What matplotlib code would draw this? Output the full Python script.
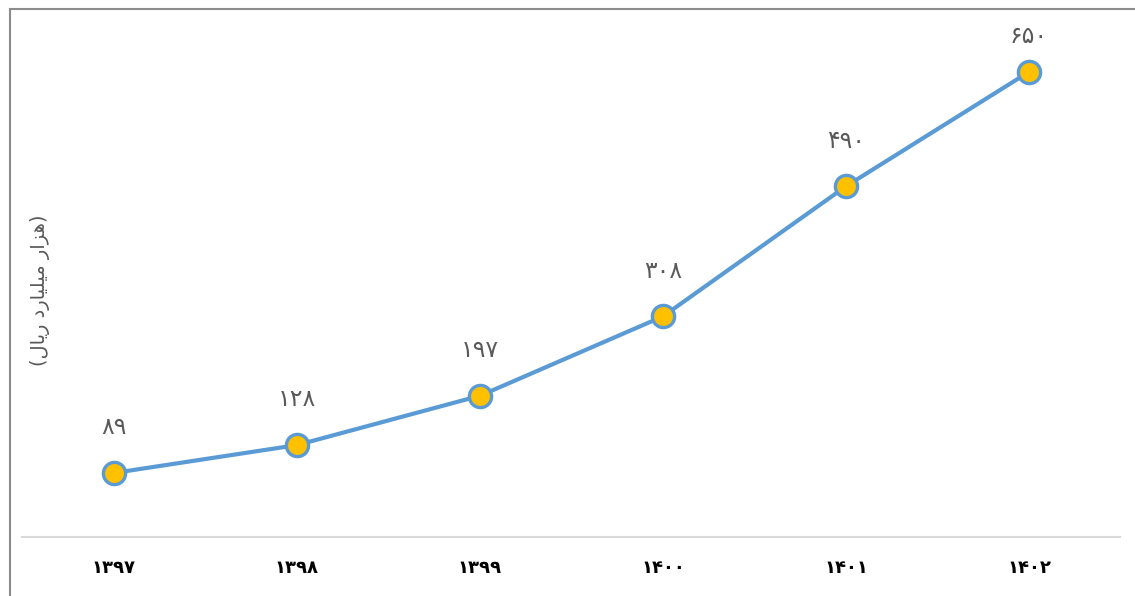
import matplotlib
matplotlib.use('Agg')
import matplotlib.pyplot as plt
from matplotlib.patches import Rectangle

# years (Persian digits) and values, thousand billion rials
years = ['۱۳۹۷', '۱۳۹۸', '۱۳۹۹', '۱۴۰۰', '۱۴۰۱', '۱۴۰۲']
values = [89, 128, 197, 308, 490, 650]
value_labels = ['۸۹', '۱۲۸', '۱۹۷', '۳۰۸', '۴۹۰', '۶۵۰']

# "(هزار میلیارد ریال)" written in shaped presentation forms, visual order
ylabel = ('(' + '\uFEDD\uFE8E\uFEF3\uFEAD' + ' '
          + '\uFEA9\uFEAD\uFE8E\uFEF4\uFEE0\uFEF4\uFEE3' + ' '
          + '\uFEAD\uFE8D\uFEB0\uFEEB' + ')')

plt.rcParams['font.family'] = ['DejaVu Sans']

fig = plt.figure(figsize=(11.35, 5.96), dpi=100)
ax = fig.add_axes([0.0198, 0.0997, 0.9674, 0.8396])

YMAX = 700
xs = list(range(len(years)))
ax.plot(xs, values, color='#5B9BD5', lw=3.0, zorder=2)
ax.plot(xs, values, ls='none', marker='o', markersize=16,
        markerfacecolor='#FFC000', markeredgecolor='#5B9BD5',
        markeredgewidth=2.4, zorder=3)

# labels sit above the points, but are kept inside the plot area
for x, v, lab in zip(xs, values, value_labels):
    ax.text(x, min(v + 64, YMAX), lab, ha='center', va='center',
            fontsize=17, color='#595959')

ax.set_xlim(-0.5, 5.5)
ax.set_ylim(0, YMAX)
ax.set_xticks(xs)
ax.set_xticklabels(years, fontsize=13, fontweight='bold', color='black')
ax.tick_params(axis='x', length=0, pad=16)
ax.set_yticks([])
for s in ('top', 'right', 'left'):
    ax.spines[s].set_visible(False)
ax.spines['bottom'].set_color('#D9D9D9')
ax.spines['bottom'].set_linewidth(1.5)

fig.text(40 / 1135, 1 - 290 / 596, ylabel, rotation=90, ha='center',
         va='center', fontsize=14, color='#595959')

# outer chart frame (partly outside the image)
fig.patches.append(Rectangle((10 / 1135, -0.1), 1.2, 1 - 9 / 596 + 0.1,
                             transform=fig.transFigure, fill=False,
                             edgecolor='#8C8C8C', lw=1.5))

fig.savefig('out.png', dpi=100)
